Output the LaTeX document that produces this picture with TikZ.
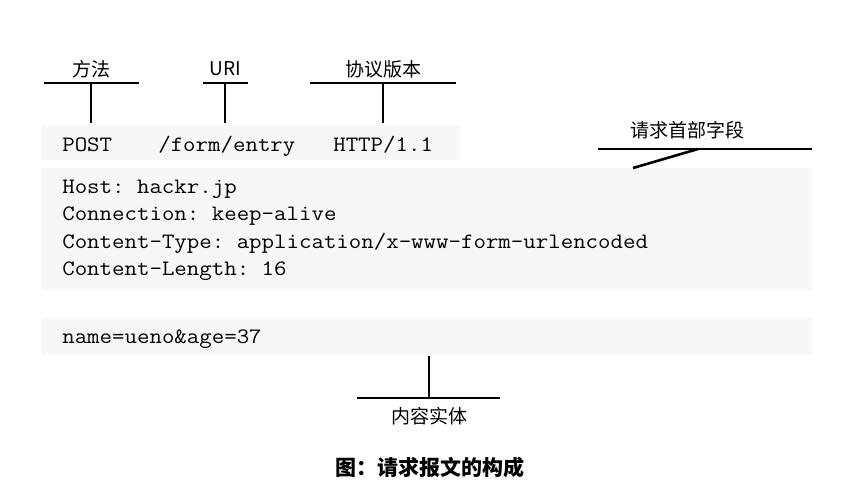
\documentclass[tikz,border=0pt]{standalone}
\usepackage{fontspec}
\usepackage{tikz}
\setmonofont[FakeStretch=1.1]{Latin Modern Mono}
\newfontfamily\cjk{Noto Sans CJK SC}

\begin{document}
\begin{tikzpicture}
    [x = 1pt, y = -1pt, line width = 2.6pt,
     code/.style = {anchor = west, inner sep = 0pt, font = \ttfamily\fontsize{22}{24}\selectfont,
                    text height = 1.5ex, text depth = .25ex},
     tag/.style = {inner sep = 0pt, font = \cjk\fontsize{19}{21}\selectfont},
     band/.style = {fill = black!3, draw = none}]
    \useasboundingbox (0,0) rectangle (859,499);

    % faint background of the message
    \path[band] (42,125) rectangle (460,160);
    \path[band] (42,168) rectangle (812,290);
    \path[band] (42,318) rectangle (812,355);

    \node[tag] (method) at (91,69) {方法};
    \node[tag] (uri) at (225,69) {URI};
    \node[tag] (version) at (383,69) {协议版本};
    \node[tag] (header) at (687,130) {请求首部字段};
    \node[tag] (entity) at (429,416) {内容实体};

    \node[code] (post) at (61,149) {POST};
    \node[code] (path) at (157,149) {/form/entry};
    \node[code] (proto) at (332,149) {HTTP/1.1};
    \node[code] (host) at (61,191) {Host: hackr.jp};
    \node[code] (conn) at (61,218) {Connection: keep-alive};
    \node[code] (ctype) at (61,246) {Content-Type: application/x-www-form-urlencoded};
    \node[code] (clen) at (61,273) {Content-Length: 16};
    \node[code] (body) at (61,341) {name=ueno\&age=37};

    \node[inner sep = 0pt, font = \cjk\bfseries\fontsize{21}{24}\selectfont] (caption) at (430,467) {图：请求报文的构成};

    \coordinate (ml) at (44,83);
    \coordinate (mr) at (139,83);
    \coordinate (mt) at (91,83);
    \coordinate (mb) at (91,123);
    \coordinate (ul) at (203,83);
    \coordinate (ur) at (248,83);
    \coordinate (ut) at (225,83);
    \coordinate (ub) at (225,123);
    \coordinate (vl) at (310,83);
    \coordinate (vr) at (456,83);
    \coordinate (vt) at (383,83);
    \coordinate (vb) at (383,123);
    \coordinate (hl) at (598,149);
    \coordinate (hr) at (812,149);
    \coordinate (hs) at (698,149);
    \coordinate (he) at (633,168);
    \coordinate (bl) at (357,398);
    \coordinate (br) at (500,398);
    \coordinate (bt) at (429,356);
    \coordinate (bb) at (429,398);

    \foreach \from/ \to in {ml/mr,mt/mb,ul/ur,ut/ub,vl/vr,vt/vb,hl/hr,hs/he,bl/br,bt/bb}
      \draw (\from) -- (\to);
  \end{tikzpicture}
\end{document}
